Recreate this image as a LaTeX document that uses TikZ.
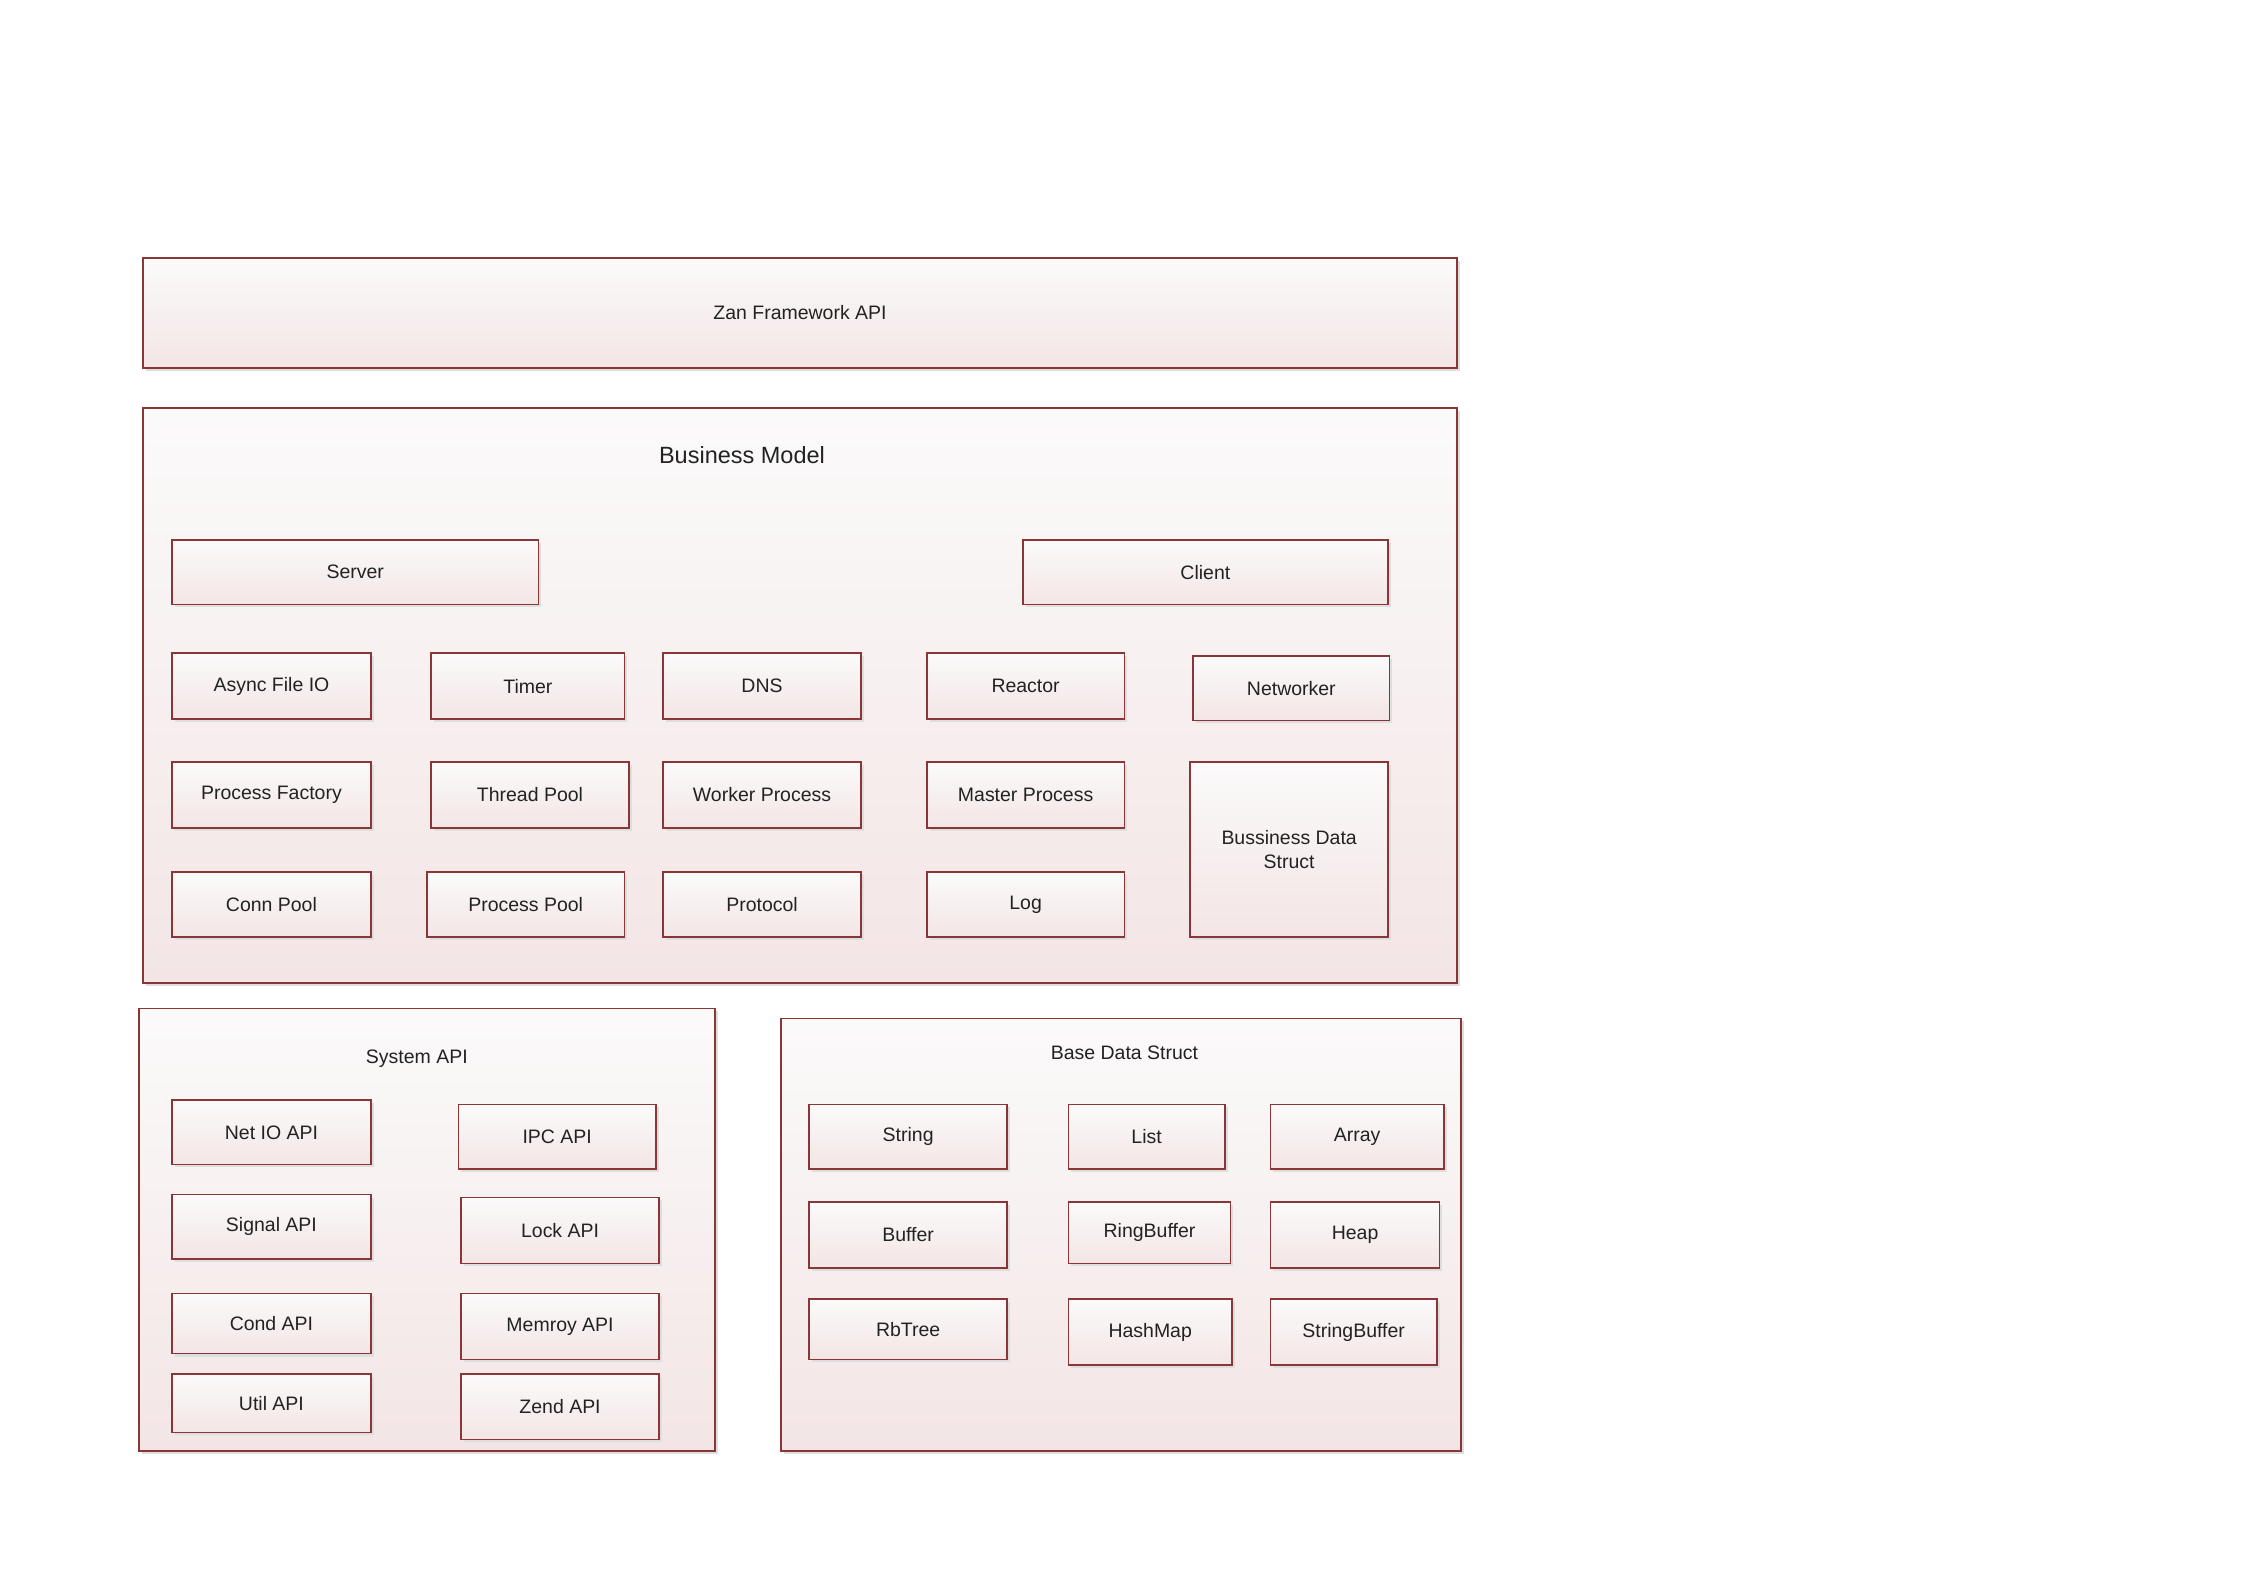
\documentclass[tikz,border=0pt]{standalone}
\usepackage{fontspec}
\setmainfont{Liberation Sans}
\usetikzlibrary{shadows}
\definecolor{bord}{HTML}{8B3636}
\definecolor{ftop}{HTML}{FBFAFA}
\definecolor{fbot}{HTML}{F3E5E5}
\definecolor{txt}{HTML}{222222}
\tikzset{
  bbox/.style={draw=bord, line width=1.2pt, top color=ftop, bottom color=fbot,
    inner sep=0pt, outer sep=0pt, text=txt, align=center,
    font=\fontsize{13.6}{17}\selectfont,
    drop shadow={shadow xshift=2pt, shadow yshift=-2pt, fill=black!13, opacity=1}},
  ttl/.style={text=txt, inner sep=0pt, font=\fontsize{13.6}{17}\selectfont},
  bigttl/.style={text=txt, inner sep=0pt, font=\fontsize{16.4}{19}\selectfont}
}
\newcommand\bx[6]{\node[bbox, minimum width=#4pt, minimum height=#5pt] (#1) at (#2,#3) {#6};}
\begin{document}
\begin{tikzpicture}[x=1pt,y=-1pt]
\useasboundingbox[fill=white] (0,0) rectangle (1568,1108.6);
% top
\bx{zan}{558.5}{218.5}{917}{77}{Zan Framework API}
% business model
\bx{bm}{558.5}{485.5}{917}{401}{}
\node[bigttl] (bmt) at (518,318) {Business Model};
\bx{server}{248}{399.5}{256}{45}{Server}
\bx{client}{841.5}{399.5}{255}{45}{Client}
\bx{async}{189.5}{479}{139}{46}{Async File IO}
\bx{timer}{368.5}{479}{135}{46}{Timer}
\bx{dns}{532}{479}{138}{46}{DNS}
\bx{reactor}{716}{479}{138}{46}{Reactor}
\bx{networker}{901.5}{480.5}{137}{45}{Networker}
\bx{pfactory}{189.5}{555}{139}{46}{Process Factory}
\bx{tpool}{370}{555}{138}{46}{Thread Pool}
\bx{worker}{532}{555}{138}{46}{Worker Process}
\bx{master}{716}{555}{138}{46}{Master Process}
\bx{bds}{900}{593}{138}{122}{Bussiness Data\\Struct}
\bx{cpool}{189.5}{631.5}{139}{45}{Conn Pool}
\bx{ppool}{367}{631.5}{138}{45}{Process Pool}
\bx{protocol}{532}{631.5}{138}{45}{Protocol}
\bx{log}{716}{631.5}{138}{45}{Log}
% system api
\bx{sys}{298}{858.5}{402}{309}{}
\node[ttl] (syst) at (291,739) {System API};
\bx{netio}{189.5}{790.5}{139}{45}{Net IO API}
\bx{ipc}{389}{793.5}{138}{45}{IPC API}
\bx{signal}{189.5}{856.5}{139}{45}{Signal API}
\bx{lock}{391}{859}{138}{46}{Lock API}
\bx{cond}{189.5}{924}{139}{42}{Cond API}
\bx{memroy}{391}{926}{138}{46}{Memroy API}
\bx{util}{189.5}{979.5}{139}{41}{Util API}
\bx{zend}{391}{982}{138}{46}{Zend API}
% base data struct
\bx{base}{782.5}{862}{475}{302}{}
\node[ttl] (baset) at (785,735) {Base Data Struct};
\bx{string}{634}{793.5}{138}{45}{String}
\bx{list}{800.5}{793.5}{109}{45}{List}
\bx{array}{947.5}{793.5}{121}{45}{Array}
\bx{buffer}{634}{862}{138}{46}{Buffer}
\bx{ring}{802.5}{860.5}{113}{43}{RingBuffer}
\bx{heap}{946}{862}{118}{46}{Heap}
\bx{rbtree}{634}{928}{138}{42}{RbTree}
\bx{hashmap}{803}{930}{114}{46}{HashMap}
\bx{sbuf}{945}{930}{116}{46}{StringBuffer}
\end{tikzpicture}
\end{document}
